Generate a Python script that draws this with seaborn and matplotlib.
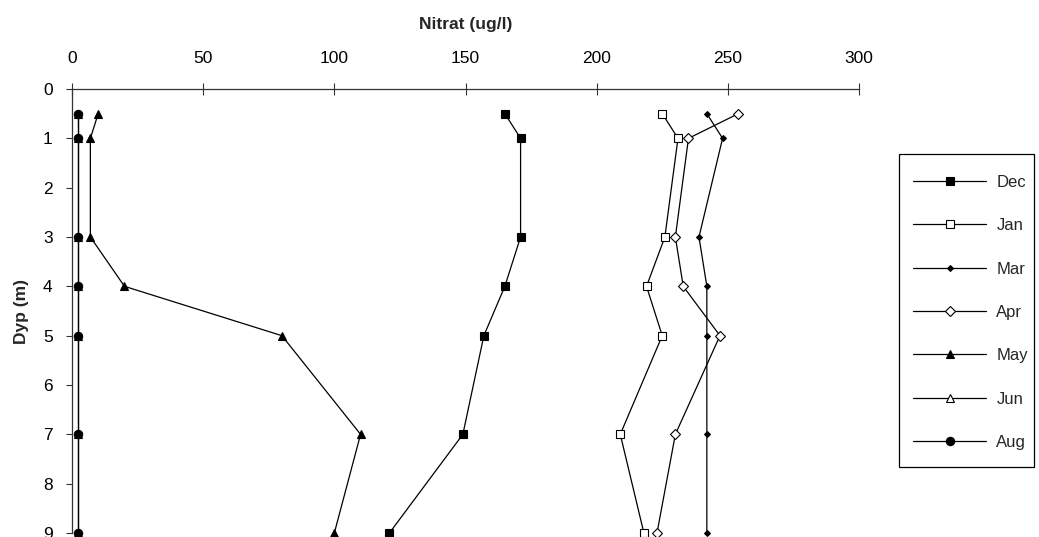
import matplotlib
matplotlib.use("Agg")
import matplotlib.pyplot as plt
from matplotlib.patches import Rectangle
import seaborn as sns
import pandas as pd

depth = [0.5, 1, 3, 4, 5, 7, 9]
dec = [165, 171, 171, 165, 157, 149, 121]
jan = [225, 231, 226, 219, 225, 209, 218]
mar = [242, 248, 239, 242, 242, 242, 242]
apr = [254, 235, 230, 233, 247, 230, 223]
may = [10, 7, 7, 20, 80, 110, 100]
jun = [2.2, 2.2, 2.2, 2.2, 2.2, 2.2, 2.2]
aug = [2.2, 2.2, 2.2, 2.2, 2.2, 2.2, 2.2]

series_names = ["Dec", "Jan", "Mar", "Apr", "May", "Jun", "Aug"]
series_vals = [dec, jan, mar, apr, may, jun, aug]
xticks = [0, 50, 100, 150, 200, 250, 300]
yticks = list(range(0, 10))

sns.set_theme(style="white")
plt.rcParams["font.family"] = ["Liberation Sans", "DejaVu Sans"]

rows = []
for name, vals in zip(series_names, series_vals):
    for d, v in zip(depth, vals):
        rows.append({"month": name, "depth": d, "nitrat": v})
df = pd.DataFrame(rows)

styles = {
    "Dec": dict(marker="s", ms=5.5, mfc="black"),
    "Jan": dict(marker="s", ms=6.3, mfc="white"),
    "Mar": dict(marker="D", ms=3.0, mfc="black"),
    "Apr": dict(marker="D", ms=4.8, mfc="white"),
    "May": dict(marker="^", ms=5.5, mfc="black"),
    "Jun": dict(marker="^", ms=6.0, mfc="white"),
    "Aug": dict(marker="o", ms=6.0, mfc="black"),
}

fig = plt.figure(figsize=(10.39, 5.37), dpi=100)
ax = fig.add_axes([72 / 1039, 1 - 533 / 537, 787 / 1039, 444 / 537])

handles = []
for name in series_names:
    sub = df[df["month"] == name]
    st = styles[name]
    sns.lineplot(data=sub, x="nitrat", y="depth", sort=False, estimator=None,
                 ax=ax, color="black", linewidth=0.9, marker=st["marker"],
                 markersize=st["ms"], markerfacecolor=st["mfc"],
                 markeredgecolor="black", markeredgewidth=0.8,
                 label=name, legend=False, clip_on=False)
    handles.append(ax.lines[-1])

ax.set_xlim(0, 300)
ax.set_ylim(9, 0)
ax.set_xticks(xticks)
ax.set_yticks(yticks)
ax.xaxis.tick_top()
ax.xaxis.set_label_position("top")
for s in ["right", "bottom"]:
    ax.spines[s].set_visible(False)
for s in ["top", "left"]:
    ax.spines[s].set_color("#333333")
    ax.spines[s].set_linewidth(0.9)
ax.tick_params(axis="x", direction="inout", length=9, width=0.8, color="#333333",
               labelsize=12.5, pad=12, top=True, bottom=False, labelcolor="black")
ax.tick_params(axis="y", direction="out", length=4.5, width=0.8, color="#333333",
               labelsize=12.5, pad=9.5, left=True, labelcolor="black")
ax.set_xlabel("Nitrat (ug/l)", fontsize=12.5, fontweight="bold", labelpad=16)
ax.set_ylabel("Dyp (m)", fontsize=12.5, fontweight="bold", labelpad=10)

leg = fig.legend(handles=handles, labels=series_names,
                 loc="upper left", bbox_to_anchor=(913 / 1039, 1 - 175 / 537),
                 frameon=False, fontsize=12, handlelength=4.4, handletextpad=0.6,
                 labelspacing=1.7, borderpad=0, borderaxespad=0)
fig.add_artist(Rectangle((899 / 1039, 1 - 467 / 537), 135 / 1039, 313 / 537,
                         transform=fig.transFigure, fill=False,
                         edgecolor="black", linewidth=0.9))

fig.savefig("out.png", dpi=100)
